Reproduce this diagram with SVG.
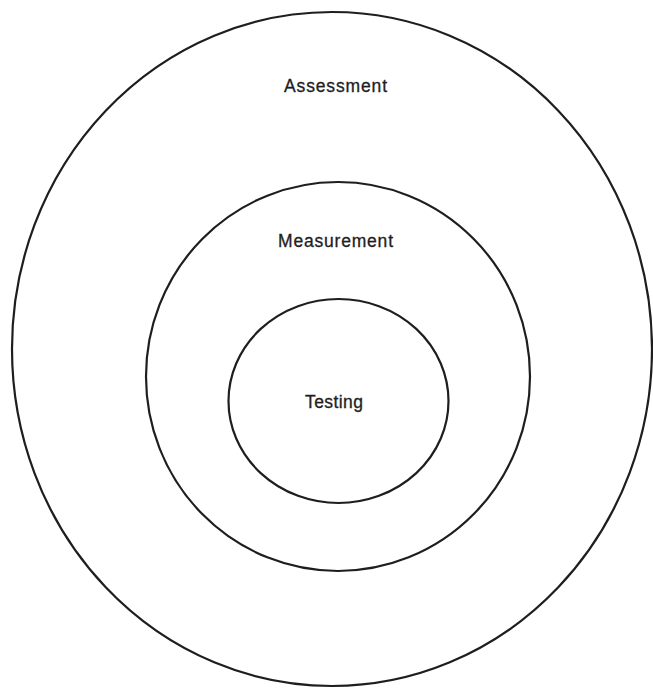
<svg xmlns="http://www.w3.org/2000/svg" width="653" height="688" viewBox="0 0 653 688">
<style>
.ring{fill:none;stroke:#1e1e1e;stroke-width:2.2}
.lbl{font-family:"Liberation Sans",Arial,sans-serif;font-size:17.5px;fill:#1e1e1e;stroke:#1e1e1e;stroke-width:0.3}
</style>
<rect width="653" height="688" fill="#fff"/>
<g id="assessment">
<ellipse class="ring" cx="332" cy="349" rx="320" ry="337"/>
<text class="lbl" x="284" y="92" textLength="103" lengthAdjust="spacing">Assessment</text>
</g>
<g id="measurement">
<ellipse class="ring" cx="338" cy="376.5" rx="192" ry="194.5"/>
<text class="lbl" x="278" y="247" textLength="115" lengthAdjust="spacing">Measurement</text>
</g>
<g id="testing">
<ellipse class="ring" cx="338.5" cy="401" rx="110" ry="102"/>
<text class="lbl" x="305" y="408" textLength="58" lengthAdjust="spacing">Testing</text>
</g>
<g id="connectors"></g>
</svg>
